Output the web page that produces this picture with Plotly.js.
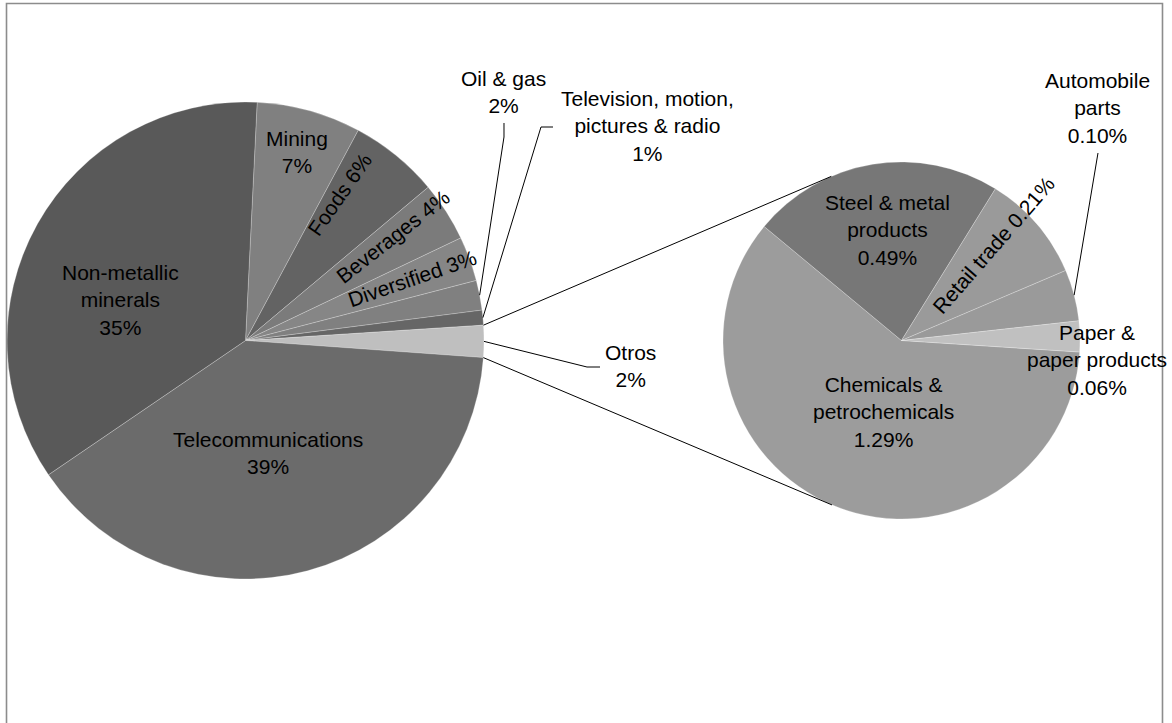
<!DOCTYPE html>
<html><head><meta charset="utf-8">
<script src="https://cdn.plot.ly/plotly-3.0.1.min.js"></script>
<style>html,body{margin:0;padding:0;background:#fff}</style>
</head><body><div id="chart" style="width:1172px;height:723px"></div>
<script>
// ---- data ----
const mainLabels = ["Mining","Foods","Beverages","Diversified","Oil & gas","Television, motion,<br>pictures & radio","Otros","Telecommunications","Non-metallic<br>minerals"];
const mainPct = ["7%","6%","4%","3%","2%","1%","2%","39%","35%"];
const mainValuesKnown = [7,6,4,3,2,1,null,39,35];
const subLabels = ["Chemicals &<br>petrochemicals","Steel & metal<br>products","Retail trade","Automobile<br>parts","Paper &<br>paper products"];
const subPct = ["1.29%","0.49%","0.21%","0.10%","0.06%"];
const subValues = [1.29,0.49,0.21,0.10,0.06];
const OTROS = 6;
const otrosValue = subValues.reduce((a,b)=>a+b,0);
const mainValues = mainValuesKnown.map((v,i)=> i===OTROS ? otrosValue : v);

const mainColors = ["#808080","#636363","#7b7b7b","#868686","#808080","#666666","#bfbfbf","#6b6b6b","#595959"];
const subColors  = ["#9c9c9c","#777777","#9a9a9a","#9a9a9a","#c0c0c0"];

// ---- geometry (layout) ----
const W = 1172, H = 723;
const L = {cx:245.5, cy:340.5, r:238.5, rot:2.8};
const R = {cx:901.5, cy:340.5, r:178.5, rot:93.7};
const px = x => x / W, py = y => 1 - y / H;
function domainOf(c){ return {x:[px(c.cx-c.r), px(c.cx+c.r)], y:[py(c.cy+c.r), py(c.cy-c.r)]}; }
function edgePoint(c, a){ const t=a*Math.PI/180; return [c.cx + c.r*Math.sin(t), c.cy - c.r*Math.cos(t)]; }
function sliceAngles(vals, rot){
  const tot = vals.reduce((a,b)=>a+b,0); let cur = rot; const out=[];
  vals.forEach(v=>{ const s=cur; cur += v/tot*360; out.push({s:s, e:cur, m:(s+cur)/2}); });
  return out;
}
const mA = sliceAngles(mainValues, L.rot);
const sA = sliceAngles(subValues, R.rot);

function tangent(P, c, upper){
  const dx=P[0]-c.cx, dy=P[1]-c.cy, d=Math.hypot(dx,dy);
  const phi=Math.atan2(dy,dx), al=Math.acos(c.r/d);
  const t1=[c.cx+c.r*Math.cos(phi+al), c.cy+c.r*Math.sin(phi+al)];
  const t2=[c.cx+c.r*Math.cos(phi-al), c.cy+c.r*Math.sin(phi-al)];
  return upper ? (t1[1]<t2[1]?t1:t2) : (t1[1]>t2[1]?t1:t2);
}

const shapes = [];
function pathPx(pts){
  return pts.map((p,i)=>(i?"L":"M")+px(p[0]).toFixed(5)+","+py(p[1]).toFixed(5)).join(" ");
}
function addPath(pts, col, w){ shapes.push({type:"path", xref:"paper", yref:"paper", path:pathPx(pts), line:{color:col||"#000", width:w||1}}); }

// connectors from the Otros slice to the secondary pie
const pUp = edgePoint(L, mA[OTROS].s), pLo = edgePoint(L, mA[OTROS].e);
addPath([pUp, tangent(pUp, R, true)]);
addPath([pLo, tangent(pLo, R, false)]);
// leader lines
addPath([edgePoint(L, mA[4].m), [504,137], [504,123]]);
addPath([edgePoint(L, mA[5].m), [541,127], [553,127]]);
addPath([edgePoint(L, mA[OTROS].m), [587,367], [600,367]]);
addPath([edgePoint(R, sA[3].m), [1098,153]]);
// frame
addPath([[6.5,H+5],[6.5,3.5],[1162.5,3.5],[1162.5,H+5]], "#8c8c8c", 1.6);

// label placement (pixel centre, rotation, separator)
const mainPos = [
  {x:297,y:152,a:0,sep:"<br>"},{x:340,y:195,a:-55,sep:" "},{x:393,y:237,a:-38,sep:" "},
  {x:412,y:278,a:-19,sep:" "},{x:503,y:92,a:0,sep:"<br>"},{x:647,y:126,a:0,sep:"<br>"},
  {x:630,y:366,a:0,sep:"<br>"},{x:268,y:453,a:0,sep:"<br>"},{x:120,y:300,a:0,sep:"<br>"}];
const subPos = [
  {x:883,y:412,a:0,sep:"<br>"},{x:887,y:230,a:0,sep:"<br>"},{x:993,y:245,a:-49,sep:" "},
  {x:1097,y:108,a:0,sep:"<br>"},{x:1097,y:360,a:0,sep:"<br>"}];

const font = {family:"Liberation Sans, Arial, sans-serif", size:21, color:"#000"};
const annotations = [];
function addLabels(labels, pcts, pos){
  labels.forEach((lab,i)=>{
    const p = pos[i];
    annotations.push({xref:"paper", yref:"paper", x:px(p.x), y:py(p.y), xanchor:"center", yanchor:"middle",
      text: lab + p.sep + pcts[i], textangle:p.a, showarrow:false, font:font, align:"center"});
  });
}
addLabels(mainLabels, mainPct, mainPos);
addLabels(subLabels, subPct, subPos);

const strip = s => s.replace(/<br>/g," ");
const data = [
  {type:"pie", labels:mainLabels.map(strip), values:mainValues, sort:false, direction:"clockwise",
   rotation:L.rot, domain:domainOf(L), textinfo:"none", hoverinfo:"label+value",
   marker:{colors:mainColors, line:{color:"rgba(255,255,255,0.35)", width:0.7}}, automargin:false},
  {type:"pie", labels:subLabels.map(strip), values:subValues, sort:false, direction:"clockwise",
   rotation:R.rot, domain:domainOf(R), textinfo:"none", hoverinfo:"label+value",
   marker:{colors:subColors, line:{color:"rgba(255,255,255,0.35)", width:0.7}}, automargin:false}
];
const layout = {width:W, height:H, margin:{l:0,r:0,t:0,b:0}, showlegend:false,
  paper_bgcolor:"#fff", plot_bgcolor:"#fff", shapes:shapes, annotations:annotations, font:font};
Plotly.newPlot("chart", data, layout, {displayModeBar:false, staticPlot:true});
</script></body></html>
